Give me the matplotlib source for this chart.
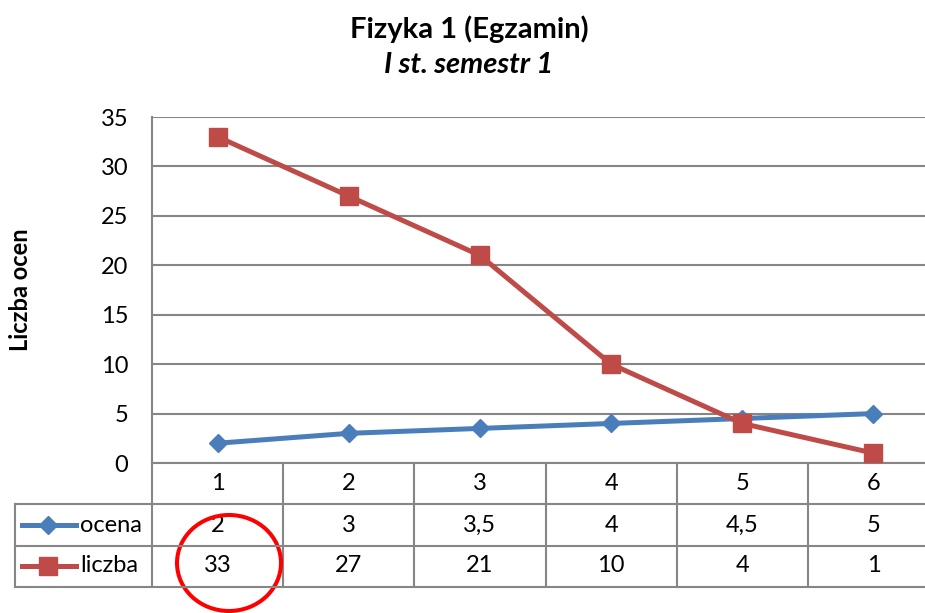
import matplotlib
matplotlib.use('Agg')
import matplotlib.pyplot as plt
from matplotlib.patches import Ellipse
from matplotlib.transforms import blended_transform_factory

categories = [1, 2, 3, 4, 5, 6]
ocena = [2, 3, 3.5, 4, 4.5, 5]
liczba = [33, 27, 21, 10, 4, 1]
yticks = [0, 5, 10, 15, 20, 25, 30, 35]

BLUE = '#4A7EBB'
RED = '#BE4B48'
GRID = '#868686'
W, H = 925, 613
FS = 17

plt.rcParams['font.family'] = ['Lato', 'DejaVu Sans']


def fx(px):
    return px / W


def fy(py):
    return 1 - py / H


def fmt(v):
    s = f'{v:g}'
    return s.replace('.', ',')


fig = plt.figure(figsize=(W / 100, H / 100), dpi=100)
ax = fig.add_axes([fx(152), fy(463), fx(939) - fx(152), fy(117) - fy(463)])

ax.plot(categories, ocena, color=BLUE, linewidth=3.6, marker='D', markersize=9,
        clip_on=False, zorder=3)
ax.plot(categories, liczba, color=RED, linewidth=3.6, marker='s', markersize=12.5,
        clip_on=False, zorder=4)

ax.set_xlim(0.5, 6.5)
ax.set_ylim(0, 35)
ax.set_yticks(yticks)
ax.set_xticks([])
ax.tick_params(axis='y', length=0, pad=17, labelsize=FS)
ax.grid(True, axis='y', color=GRID, linewidth=1.5)
ax.set_axisbelow(True)
for side in ['top', 'right']:
    ax.spines[side].set_visible(False)
for side in ['left', 'bottom']:
    ax.spines[side].set_color(GRID)
    ax.spines[side].set_linewidth(1.5)

fig.text(fx(21), fy(290), 'Liczba ocen', rotation=90, ha='center', va='center',
         fontsize=FS, fontweight='bold')
fig.text(fx(469), fy(29), 'Fizyka 1 (Egzamin)', ha='center', va='center',
         fontsize=21, fontweight='bold')
fig.text(fx(469), fy(65), 'I st. semestr 1', ha='center', va='center',
         fontsize=21, fontweight='bold', style='italic')

# data table below the plot
tr = blended_transform_factory(ax.transData, fig.transFigure)
row_top, row1, row2, row_bot = fy(463), fy(504), fy(546), fy(587)
for b in [c - 0.5 for c in categories] + [categories[-1] + 0.5]:
    ax.plot([b, b], [row_top, row_bot], color=GRID, linewidth=1.5,
            transform=tr, clip_on=False)
for yy in [row1, row2, row_bot]:
    fig.add_artist(plt.Line2D([fx(15), 1.05], [yy, yy], color=GRID, linewidth=1.5))
fig.add_artist(plt.Line2D([fx(15), fx(15)], [row1, row_bot], color=GRID, linewidth=1.5))

for c, o, n in zip(categories, ocena, liczba):
    ax.text(c, fy(484), str(c), transform=tr, ha='center', va='center', fontsize=FS)
    ax.text(c, fy(525), fmt(o), transform=tr, ha='center', va='center', fontsize=FS)
    ax.text(c, fy(566), fmt(n), transform=tr, ha='center', va='center', fontsize=FS)

# legend keys in the row headers
fig.add_artist(plt.Line2D([fx(22), fx(76)], [fy(525), fy(525)], color=BLUE, linewidth=3.6))
fig.add_artist(plt.Line2D([fx(48)], [fy(525)], color=BLUE, marker='D', markersize=9))
fig.add_artist(plt.Line2D([fx(22), fx(76)], [fy(566), fy(566)], color=RED, linewidth=3.6))
fig.add_artist(plt.Line2D([fx(48)], [fy(566)], color=RED, marker='s', markersize=12.5))
fig.text(fx(80), fy(525), 'ocena', ha='left', va='center', fontsize=FS)
fig.text(fx(80), fy(566), 'liczba', ha='left', va='center', fontsize=FS)

# red circle around the first count
fig.add_artist(Ellipse((fx(229), fy(563)), fx(104), 96 / H, transform=fig.transFigure,
                       fill=False, edgecolor='#FF0000', linewidth=2.9))

fig.savefig('out.png', dpi=100)
